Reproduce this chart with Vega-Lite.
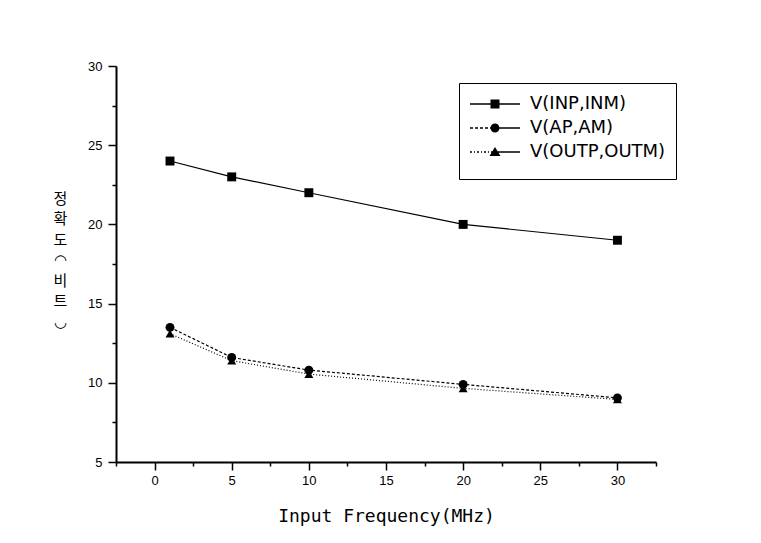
{
  "$schema": "https://vega.github.io/schema/vega-lite/v6.json",
  "width": 540,
  "height": 396,
  "autosize": {"type": "none"},
  "padding": {"left": 116, "top": 66, "right": 105, "bottom": 81},
  "background": "white",
  "config": {"view": {"stroke": null}},
  "data": {
    "values": [
      {"series": "V(INP,INM)", "freq": 1, "value": 24.0},
      {"series": "V(INP,INM)", "freq": 5, "value": 23.0},
      {"series": "V(INP,INM)", "freq": 10, "value": 22.0},
      {"series": "V(INP,INM)", "freq": 20, "value": 20.0},
      {"series": "V(INP,INM)", "freq": 30, "value": 19.0},
      {"series": "V(AP,AM)", "freq": 1, "value": 13.5},
      {"series": "V(AP,AM)", "freq": 5, "value": 11.6},
      {"series": "V(AP,AM)", "freq": 10, "value": 10.8},
      {"series": "V(AP,AM)", "freq": 20, "value": 9.9},
      {"series": "V(AP,AM)", "freq": 30, "value": 9.05},
      {"series": "V(OUTP,OUTM)", "freq": 1, "value": 13.1},
      {"series": "V(OUTP,OUTM)", "freq": 5, "value": 11.4},
      {"series": "V(OUTP,OUTM)", "freq": 10, "value": 10.55},
      {"series": "V(OUTP,OUTM)", "freq": 20, "value": 9.65},
      {"series": "V(OUTP,OUTM)", "freq": 30, "value": 8.95}
    ]
  },
  "resolve": {"axis": {"x": "independent", "y": "independent"}, "scale": {"shape": "independent"}, "legend": {"shape": "independent"}},
  "layer": [
    {
      "transform": [{"filter": "datum.series === 'V(INP,INM)'"}],
      "mark": {"type": "line", "color": "black", "strokeWidth": 1.2},
      "encoding": {
        "x": {
          "field": "freq", "type": "quantitative",
          "scale": {"domain": [-2.5, 32.5], "nice": false, "zero": false},
          "axis": {
            "orient": "bottom",
            "values": [0, 5, 10, 15, 20, 25, 30],
            "grid": false,
            "tickSize": 8, "tickWidth": 1.5, "tickColor": "black",
            "domainColor": "black", "domainWidth": 2,
            "labelFont": "Liberation Sans", "labelFontSize": 13, "labelColor": "black", "labelPadding": 4,
            "title": "Input Frequency(MHz)",
            "titleFont": "DejaVu Sans Mono", "titleFontSize": 18, "titleFontWeight": "normal", "titleColor": "black",
            "titleBaseline": "alphabetic", "titleY": 59
          }
        },
        "y": {
          "field": "value", "type": "quantitative",
          "scale": {"domain": [5, 30], "nice": false, "zero": false},
          "axis": {
            "orient": "left",
            "values": [5, 10, 15, 20, 25, 30],
            "grid": false,
            "tickSize": 8, "tickWidth": 1.5, "tickColor": "black",
            "domainColor": "black", "domainWidth": 2,
            "labelFont": "Liberation Sans", "labelFontSize": 13, "labelColor": "black", "labelPadding": 6,
            "title": ["정", "확", "도", "◠", "비", "트", "◡"],
            "titleAngle": 0, "titleAlign": "center", "titleBaseline": "top",
            "titleX": -56, "titleY": 125, "titleLineHeight": 20.5,
            "titleFont": "Noto Sans CJK KR", "titleFontSize": 15, "titleFontWeight": "normal", "titleColor": "black"
          }
        }
      }
    },
    {
      "transform": [{"filter": "datum.series === 'V(AP,AM)'"}],
      "mark": {"type": "line", "color": "black", "strokeWidth": 1.2, "strokeDash": [3, 2]},
      "encoding": {
        "x": {"field": "freq", "type": "quantitative", "scale": {"domain": [-2.5, 32.5], "nice": false, "zero": false}, "axis": null},
        "y": {"field": "value", "type": "quantitative", "scale": {"domain": [5, 30], "nice": false, "zero": false}, "axis": null}
      }
    },
    {
      "transform": [{"filter": "datum.series === 'V(OUTP,OUTM)'"}],
      "mark": {"type": "line", "color": "black", "strokeWidth": 1.2, "strokeDash": [1, 2]},
      "encoding": {
        "x": {"field": "freq", "type": "quantitative", "scale": {"domain": [-2.5, 32.5], "nice": false, "zero": false}, "axis": null},
        "y": {"field": "value", "type": "quantitative", "scale": {"domain": [5, 30], "nice": false, "zero": false}, "axis": null}
      }
    },
    {
      "mark": {"type": "point", "filled": true, "color": "black", "opacity": 1, "size": 80},
      "encoding": {
        "x": {
          "field": "freq", "type": "quantitative",
          "scale": {"domain": [-2.5, 32.5], "nice": false, "zero": false},
          "axis": {
            "orient": "bottom",
            "values": [-2.5, 2.5, 7.5, 12.5, 17.5, 22.5, 27.5, 32.5],
            "grid": false, "labels": false, "domain": false, "title": null,
            "tickSize": 4, "tickWidth": 1.5, "tickColor": "black"
          }
        },
        "y": {
          "field": "value", "type": "quantitative",
          "scale": {"domain": [5, 30], "nice": false, "zero": false},
          "axis": {
            "orient": "left",
            "values": [7.5, 12.5, 17.5, 22.5, 27.5],
            "grid": false, "labels": false, "domain": false, "title": null,
            "tickSize": 4, "tickWidth": 1.5, "tickColor": "black"
          }
        },
        "shape": {
          "field": "series", "type": "nominal",
          "scale": {"domain": ["V(INP,INM)", "V(AP,AM)", "V(OUTP,OUTM)"], "range": ["square", "circle", "triangle-up"]},
          "legend": null
        }
      }
    },
    {
      "mark": {"type": "point", "filled": true, "color": "black", "opacity": 0, "size": 10},
      "encoding": {
        "x": {"field": "freq", "type": "quantitative", "scale": {"domain": [-2.5, 32.5], "nice": false, "zero": false}, "axis": null},
        "y": {"field": "value", "type": "quantitative", "scale": {"domain": [5, 30], "nice": false, "zero": false}, "axis": null},
        "shape": {
          "field": "series", "type": "nominal",
          "scale": {
            "domain": ["V(INP,INM)", "V(AP,AM)", "V(OUTP,OUTM)"],
            "range": [
              "M-1,-0.075L4,-0.075L4,0.075L-1,0.075ZM1.05,-0.45L1.95,-0.45L1.95,0.45L1.05,0.45Z",
              "M-1,-0.075L-0.7,-0.075L-0.7,0.075L-1,0.075ZM-0.5,-0.075L-0.2,-0.075L-0.2,0.075L-0.5,0.075ZM0,-0.075L0.3,-0.075L0.3,0.075L0,0.075ZM0.5,-0.075L0.8,-0.075L0.8,0.075L0.5,0.075ZM1,-0.075L4,-0.075L4,0.075L1,0.075ZM1.95,0A0.45,0.45,0,1,1,1.05,0A0.45,0.45,0,1,1,1.95,0Z",
              "M-1,-0.075L-0.8,-0.075L-0.8,0.075L-1,0.075ZM-0.6,-0.075L-0.5,-0.075L-0.5,0.075L-0.6,0.075ZM-0.3,-0.075L-0.1,-0.075L-0.1,0.075L-0.3,0.075ZM0.1,-0.075L0.2,-0.075L0.2,0.075L0.1,0.075ZM0.4,-0.075L0.6,-0.075L0.6,0.075L0.4,0.075ZM0.8,-0.075L0.9,-0.075L0.9,0.075L0.8,0.075ZM1.1,-0.075L4,-0.075L4,0.075L1.1,0.075ZM1.5,-0.5L2.05,0.4L0.95,0.4Z"
            ]
          },
          "legend": {
            "orient": "none", "legendX": 343, "legendY": 17,
            "title": " ", "titleOrient": "bottom", "titleFontSize": 4, "titlePadding": 4,
            "symbolSize": 400, "symbolOpacity": 1, "symbolFillColor": "black", "symbolStrokeColor": "transparent",
            "labelFont": "DejaVu Sans", "labelFontSize": 18, "labelColor": "black", "labelOffset": 39, "labelLimit": 300,
            "rowPadding": 4, "padding": 10,
            "strokeColor": "black", "fillColor": "white",
            "encode": {
              "legend": {"update": {"strokeWidth": {"value": 2}}}
            }
          }
        }
      }
    }
  ]
}
